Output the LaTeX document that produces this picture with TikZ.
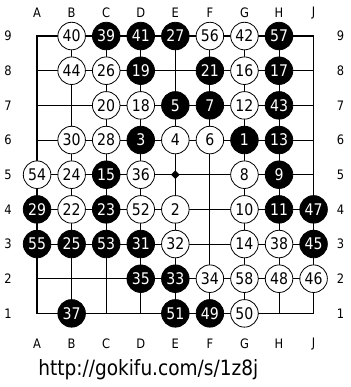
\documentclass[tikz,border=0pt]{standalone}
\usepackage{fontspec}
\setmainfont{DejaVu Sans}[FakeStretch=0.88]
\usetikzlibrary{positioning}

\begin{document}
\begin{tikzpicture}[
    x=34.5pt, y=34.6pt,
    grid/.style={line width=0.8pt, black},
    edge/.style={line width=1.7pt, black},
    stone/.style={circle, draw=black, line width=0.8pt, minimum size=27.5pt, inner sep=0pt, font=\fontsize{16}{16}\selectfont},
    whitestone/.style={stone, fill=white, text=black},
    blackstone/.style={stone, fill=black, text=white},
    coordlabel/.style={font=\fontsize{13}{13}\selectfont, inner sep=0pt}
]
\useasboundingbox (-1.0725,-2.124) rectangle (9.0725,9.04);

\foreach \c [count=\i from 0] in {A,B,C,D,E,F,G,H,J} {
    \foreach \r in {1,...,9}
        \coordinate (\c\r) at (\i,\r-1);
    \node[coordlabel] (top\c) at (\i,8.665) {\c};
    \node[coordlabel] (bot\c) at (\i,-0.88) {\c};
}
\foreach \r in {1,...,9} {
    \node[coordlabel] (left\r) at (-0.84,\r-1) {\r};
    \node[coordlabel] (right\r) at (8.78,\r-1) {\r};
}

\foreach \i in {1,...,7} {
    \draw[grid] (\i,0) -- (\i,8);
    \draw[grid] (0,\i) -- (8,\i);
}
\draw[edge] (A1) rectangle (J9);
\fill ([yshift=4.3pt]E5) -- ([xshift=4.3pt]E5) -- ([yshift=-4.3pt]E5) -- ([xshift=-4.3pt]E5) -- cycle;

\foreach \p/\n in {B9/40, F9/56, G9/42, B8/44, C8/26, G8/16, C7/20, D7/18, G7/12,
    B6/30, C6/28, E6/4, F6/6, A5/54, B5/24, D5/36, G5/8, B4/22, D4/52, E4/2, G4/10,
    E3/32, G3/14, H3/38, F2/34, G2/58, H2/48, J2/46, G1/50}
    \node[whitestone] (w\n) at (\p) {\n};
\foreach \p/\n in {C9/39, D9/41, E9/27, H9/57, D8/19, F8/21, H8/17, E7/5, F7/7, H7/43,
    D6/3, G6/1, H6/13, C5/15, H5/9, A4/29, C4/23, H4/11, J4/47, A3/55, B3/25, C3/53,
    D3/31, J3/45, D2/35, E2/33, B1/37, E1/51, F1/49}
    \node[blackstone] (b\n) at (\p) {\n};

\node[font=\fontsize{21}{21}\selectfont, inner sep=0pt, anchor=base west] (url) at (0.03,-1.78) {http://gokifu.com/s/1z8j};
\end{tikzpicture}
\end{document}
